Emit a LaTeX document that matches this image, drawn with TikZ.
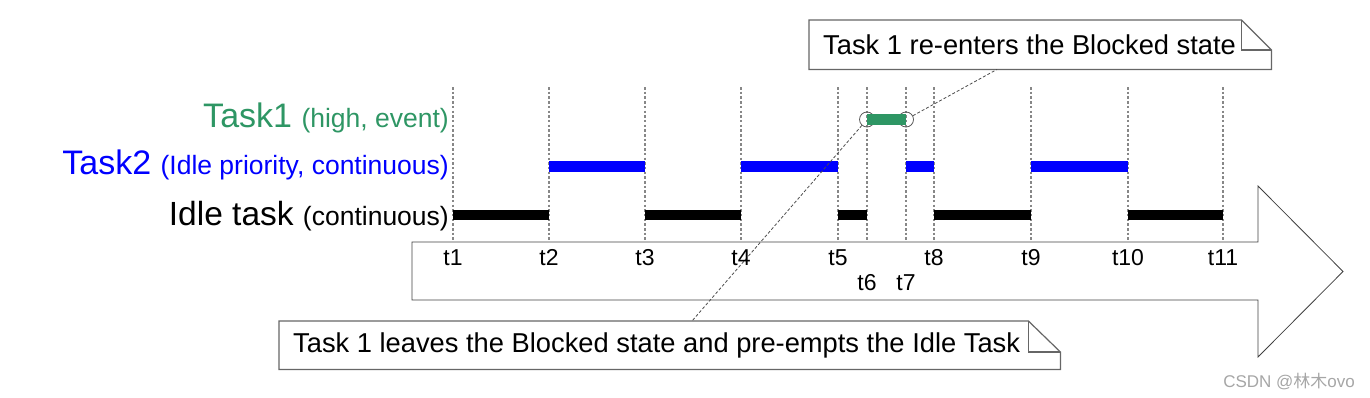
\documentclass[tikz,border=0pt]{standalone}
\usepackage{fontspec}
\setmainfont{Liberation Sans}
\newfontfamily\cjkfont{Noto Sans CJK SC}
\definecolor{tgreen}{RGB}{46,150,100}
\definecolor{tblue}{RGB}{0,0,255}
\definecolor{vgray}{RGB}{135,135,135}
\begin{document}
\begin{tikzpicture}[x=1pt,y=-1pt,
  tick/.style={draw=vgray, line width=2pt, dash pattern=on 2.5pt off 2.2pt},
  bar/.style={line width=10.5pt},
  conn/.style={draw=black!70, line width=0.8pt, dash pattern=on 3pt off 2pt},
  ring/.style={circle, draw=black!65, line width=0.8pt, minimum size=15pt, inner sep=0pt},
  callbox/.style={inner sep=0pt, anchor=north west},
  calltext/.style={font=\fontsize{27.3}{32}\selectfont, inner sep=0pt, anchor=west},
  tlabel/.style={font=\fontsize{23}{27}\selectfont, inner sep=0pt, anchor=base},
  biglab/.style={inner sep=0pt, anchor=base east},
  outline/.style={draw=black!60, line width=1.2pt},
  arrowshape/.style={draw=black!75, line width=0.8pt}
]
\useasboundingbox (0,0) rectangle (1370,397);

% big time arrow
\draw[arrowshape] (412,242) -- (1258,242) -- (1258,186) -- (1343,271.5) -- (1258,357) -- (1258,300) -- (412,300) -- cycle;

% time coordinates
\foreach \n/\x in {1/453,2/549,3/645,4/741,5/838,6/867,7/906,8/934,9/1031,10/1128,11/1223}{
  \coordinate (top\n) at (\x,87);
  \coordinate (bot\n) at (\x,242);
  \coordinate (i\n) at (\x,215);
  \coordinate (b\n) at (\x,166.5);
  \coordinate (g\n) at (\x,119.5);
}
\foreach \n in {1,...,11}{\draw[tick] (top\n) -- (bot\n);}

% circles
\node[ring] (c6) at (g6) {};
\node[ring] (c7) at (g7) {};

% bars
\foreach \a/\b in {1/2,3/4,5/6,8/9,10/11}{\draw[bar, black] (i\a) -- (i\b);}
\foreach \a/\b in {2/3,4/5,7/8,9/10}{\draw[bar, tblue] (b\a) -- (b\b);}
\draw[bar, tgreen] (g6) -- (g7);

% callouts
\node[callbox, minimum width=462pt, minimum height=49pt] (cb1) at (809,20) {};
\draw[outline, fill=white] (cb1.north west) -- ([xshift=-30pt]cb1.north east) -- ([yshift=-30pt]cb1.north east) -- (cb1.south east) -- (cb1.south west) -- cycle;
\draw[outline] ([xshift=-30pt]cb1.north east) |- ([yshift=-30pt]cb1.north east);
\node[calltext] (tx1) at ([xshift=14pt]cb1.west) {Task 1 re-enters the Blocked state};

\node[callbox, minimum width=781pt, minimum height=48pt] (cb2) at (279,321) {};
\draw[outline, fill=white] (cb2.north west) -- ([xshift=-32pt]cb2.north east) -- ([yshift=-31pt]cb2.north east) -- (cb2.south east) -- (cb2.south west) -- cycle;
\draw[outline] ([xshift=-32pt]cb2.north east) |- ([yshift=-31pt]cb2.north east);
\node[calltext] (tx2) at ([xshift=14pt]cb2.west) {Task 1 leaves the Blocked state and pre-empts the Idle Task};

% connectors
\draw[conn] (c6) -- ([xshift=413pt]cb2.north west);
\draw[conn] (c7) -- ([xshift=188pt]cb1.south west);

% row labels
\node[biglab, text=tgreen] (l1) at (449,127) {\fontsize{34}{40}\selectfont Task1 \fontsize{26.5}{31}\selectfont(high, event)};
\node[biglab, text=tblue] (l2) at (449,174) {\fontsize{34}{40}\selectfont Task2 \fontsize{26.5}{31}\selectfont(Idle priority, continuous)};
\node[biglab] (l3) at (449,225) {\fontsize{33.5}{40}\selectfont Idle task \fontsize{26.5}{31}\selectfont(continuous)};

% time labels
\foreach \n/\x in {1/453,2/549,3/645,4/741,5/838,8/934,9/1031,10/1128,11/1223}{
  \node[tlabel] (lt\n) at (\x,265) {t\n};
}
\node[tlabel] (lt6) at (867,290) {t6};
\node[tlabel] (lt7) at (906,290) {t7};

% watermark
\node[anchor=base east, inner sep=0pt, text=black!35, font=\fontsize{17}{20}\selectfont] (wm) at (1355,387) {CSDN @{\cjkfont 林木}ovo};
\end{tikzpicture}
\end{document}
